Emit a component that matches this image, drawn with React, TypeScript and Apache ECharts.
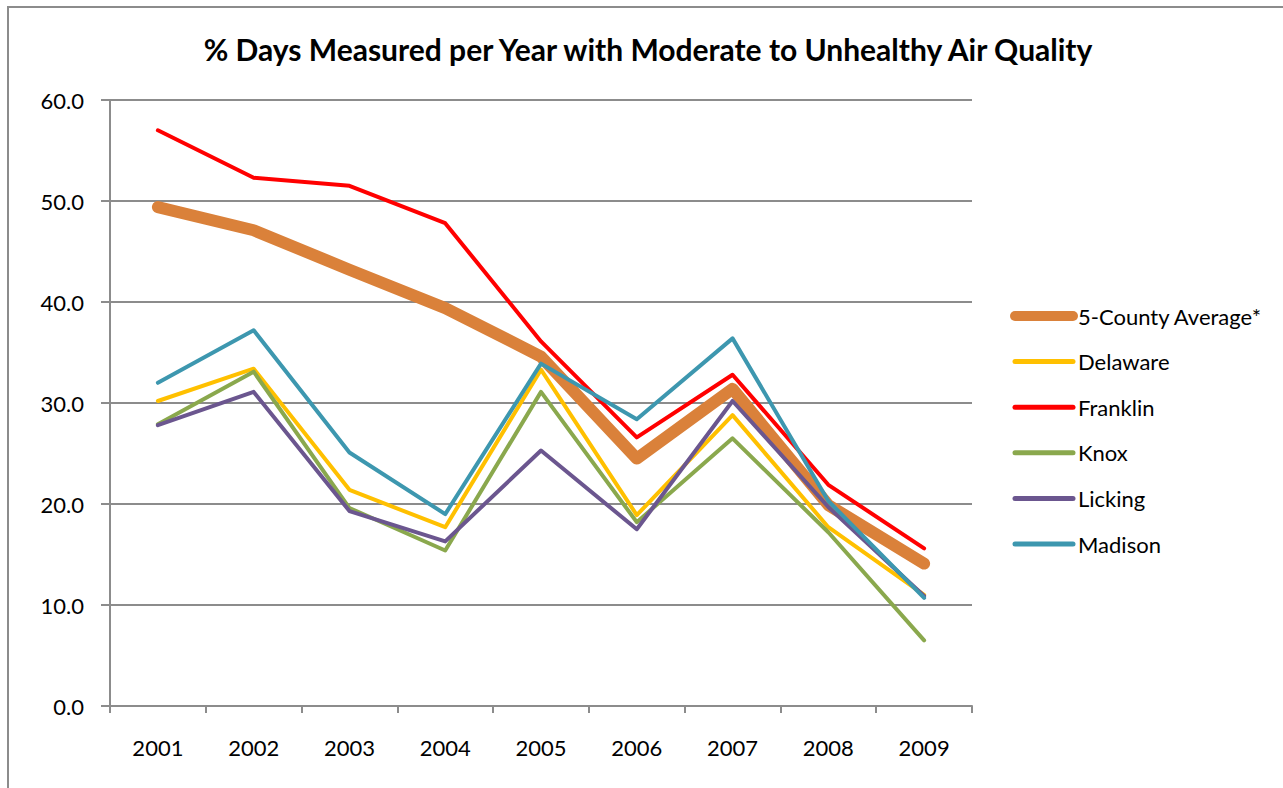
import React, { useEffect, useRef } from "react";
import * as echarts from "echarts";

const years = ["2001", "2002", "2003", "2004", "2005", "2006", "2007", "2008", "2009"];
const average = [49.4, 47.1, 43.2, 39.4, 34.6, 24.5, 31.4, 19.9, 14.1];
const delaware = [30.2, 33.4, 21.4, 17.7, 33.3, 18.9, 28.8, 17.7, 11.0];
const franklin = [57.0, 52.3, 51.5, 47.8, 36.1, 26.6, 32.8, 21.9, 15.6];
const knox = [27.9, 33.1, 19.6, 15.4, 31.1, 18.2, 26.5, 17.2, 6.5];
const licking = [27.8, 31.1, 19.3, 16.3, 25.3, 17.5, 30.2, 19.7, 10.9];
const madison = [32.0, 37.2, 25.1, 19.0, 33.9, 28.4, 36.4, 20.3, 10.7];

const seriesNames = ["5-County Average*", "Delaware", "Franklin", "Knox", "Licking", "Madison"];
const seriesData = [average, delaware, franklin, knox, licking, madison];
const colors = ["#DA813A", "#FFC000", "#FF0000", "#8AA84D", "#6B568F", "#3D97AF"];
const widths = [12, 4, 4, 4, 4, 4];
const legendWidths = [10, 5, 5, 5, 5, 5];

const FONT = "Lato, 'Open Sans', sans-serif";
const GRAY = "#8c8c8c";
const LABEL_SIZE = 22;

export default function App() {
  const ref = useRef<HTMLDivElement>(null);
  useEffect(() => {
    if (!ref.current) return;
    const chart = echarts.init(ref.current, null, { renderer: "svg" });
    chart.setOption({
      animation: false,
      backgroundColor: "#ffffff",
      textStyle: { fontFamily: FONT },
      graphic: [
        {
          type: "polyline",
          shape: { points: [[8, 788], [8, 7], [1283, 7]] },
          style: { stroke: GRAY, lineWidth: 2, fill: "none" },
        },
        {
          type: "text",
          x: 648,
          y: 49,
          style: {
            text: "% Days Measured per Year with Moderate to Unhealthy Air Quality",
            font: `bold 30px ${FONT}`,
            fill: "#000",
            textAlign: "center",
            textVerticalAlign: "middle",
          },
        },
      ],
      legend: {
        orient: "vertical",
        left: 1010,
        top: 305,
        padding: 0,
        itemWidth: 58,
        itemHeight: 14,
        itemGap: 23.6,
        textStyle: { fontSize: LABEL_SIZE, color: "#000", fontFamily: FONT, lineHeight: 22 },
        data: seriesNames.map((n, i) => ({
          name: n,
          itemStyle: { color: "rgba(0,0,0,0)", opacity: 0, borderWidth: 0 },
          lineStyle: { color: colors[i], width: legendWidths[i], cap: "round", opacity: 1 },
        })),
      },
      grid: { left: 110, right: 311, top: 100, bottom: 82, containLabel: false },
      xAxis: {
        type: "category",
        data: years,
        boundaryGap: true,
        axisLine: { show: true, lineStyle: { color: GRAY, width: 2 } },
        axisTick: { show: true, length: 7, lineStyle: { color: GRAY, width: 2 } },
        axisLabel: { fontSize: LABEL_SIZE, color: "#000", margin: 30, fontFamily: FONT },
      },
      yAxis: {
        type: "value",
        min: 0,
        max: 60,
        interval: 10,
        axisLine: { show: true, lineStyle: { color: GRAY, width: 2 } },
        axisTick: { show: true, length: 9, lineStyle: { color: GRAY, width: 2 } },
        axisLabel: {
          fontSize: LABEL_SIZE,
          color: "#000",
          margin: 26,
          fontFamily: FONT,
          formatter: (v: number) => v.toFixed(1),
        },
        splitLine: { show: true, lineStyle: { color: GRAY, width: 2 } },
      },
      series: seriesNames.map((n, i) => ({
        name: n,
        type: "line",
        data: seriesData[i],
        symbol: "none",
        lineStyle: { color: colors[i], width: widths[i], cap: "round", join: "round" },
        itemStyle: { color: colors[i] },
        z: 2 + i,
      })),
    });
    return () => chart.dispose();
  }, []);
  return (
    <div
      ref={ref}
      style={{ position: "fixed", left: 0, top: 0, width: 1283, height: 788 }}
    />
  );
}
